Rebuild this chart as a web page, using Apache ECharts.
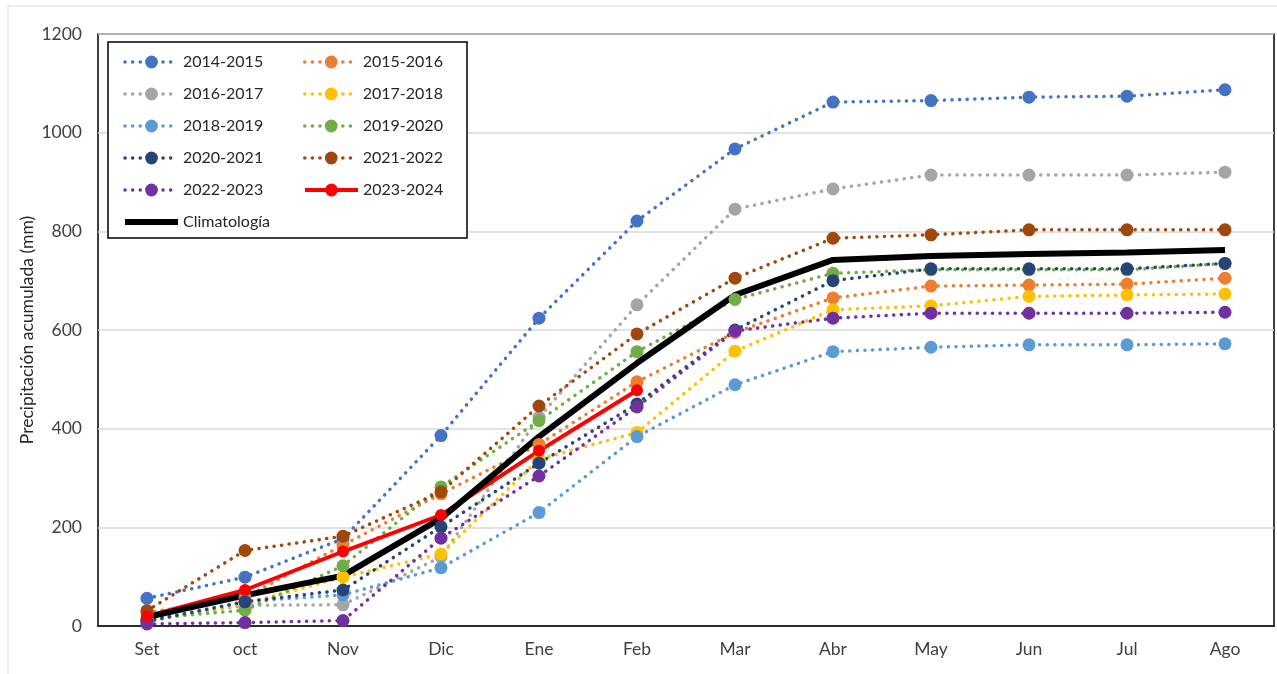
<!DOCTYPE html>
<html>
<head>
<meta charset="utf-8">
<script src="https://cdn.jsdelivr.net/npm/echarts@6/dist/echarts.min.js"></script>
<style>
  html, body { margin: 0; padding: 0; background: #fff; }
  #chart { width: 1277px; height: 674px; }
</style>
</head>
<body>
<div id="chart"></div>
<script>
const months = ['Set', 'oct', 'Nov', 'Dic', 'Ene', 'Feb', 'Mar', 'Abr', 'May', 'Jun', 'Jul', 'Ago'];
const yTicks = [0, 200, 400, 600, 800, 1000, 1200];

const s2014_2015 = [56, 99, 177, 386, 624, 821, 967, 1062, 1065, 1072, 1074, 1087];
const s2015_2016 = [27, 58, 164, 268, 368, 495, 595, 665, 689, 691, 693, 705];
const s2016_2017 = [12, 42, 43, 140, 423, 651, 845, 886, 914, 914, 914, 920];
const s2017_2018 = [10, 45, 99, 146, 338, 392, 557, 641, 649, 668, 671, 673];
const s2018_2019 = [8, 50, 63, 118, 230, 384, 489, 556, 565, 570, 570, 572];
const s2019_2020 = [15, 32, 122, 282, 416, 556, 662, 715, 722, 722, 722, 735];
const s2020_2021 = [10, 49, 73, 201, 330, 450, 600, 700, 724, 724, 724, 735];
const s2021_2022 = [31, 153, 182, 272, 446, 592, 705, 786, 793, 803, 803, 803];
const s2022_2023 = [4, 7, 11, 178, 304, 444, 598, 624, 634, 634, 634, 636];
const s2023_2024 = [20, 73, 151, 225, 355, 478];
const climatologia = [18, 62, 102, 218, 384, 533, 671, 742, 750, 754, 757, 762];

const chart = echarts.init(document.getElementById('chart'));
const font = 'Lato, "Open Sans", sans-serif';

// dotted seasons, Excel-style round dots
const dotted = [
  ['2014-2015', s2014_2015, '#4472C4'],
  ['2015-2016', s2015_2016, '#ED7D31'],
  ['2016-2017', s2016_2017, '#A5A5A5'],
  ['2017-2018', s2017_2018, '#FFC000'],
  ['2018-2019', s2018_2019, '#5B9BD5'],
  ['2019-2020', s2019_2020, '#70AD47'],
  ['2020-2021', s2020_2021, '#264478'],
  ['2021-2022', s2021_2022, '#9E480E'],
  ['2022-2023', s2022_2023, '#7030A0']
];

const series = dotted.map(([name, data, color]) => ({
  name,
  type: 'line',
  data,
  symbol: 'circle',
  symbolSize: 13,
  itemStyle: { color },
  lineStyle: { color, width: 3.5, type: [0.1, 7.5], cap: 'round' },
  emphasis: { disabled: true }
}));

series.push({
  name: '2023-2024',
  type: 'line',
  data: s2023_2024,
  symbol: 'circle',
  symbolSize: 12,
  itemStyle: { color: '#FF0000' },
  lineStyle: { color: '#FF0000', width: 4 },
  emphasis: { disabled: true }
});

series.push({
  name: 'Climatología',
  type: 'line',
  data: climatologia,
  symbol: 'none',
  itemStyle: { color: '#000000' },
  lineStyle: { color: '#000000', width: 6 },
  emphasis: { disabled: true }
});

// legend entries; the climatology one has a plain line, no marker
const legendData = series.map(s => s.name === 'Climatología'
  ? { name: s.name, itemStyle: { opacity: 0 } }
  : s.name);

const option = {
  animation: false,
  backgroundColor: '#ffffff',
  textStyle: { fontFamily: font },
  graphic: [{
    type: 'rect',
    shape: { x: 8, y: 6, width: 1290, height: 700 },
    style: { fill: 'none', stroke: '#d9d9d9', lineWidth: 1 },
    silent: true
  }],
  grid: {
    left: 98, right: 3, top: 34, bottom: 48,
    show: true, borderColor: '#000000', borderWidth: 1.5
  },
  legend: {
    left: 108, top: 42,
    width: 350,
    orient: 'horizontal',
    padding: [12, 0, 8, 14],
    backgroundColor: '#ffffff',
    borderColor: '#000000',
    borderWidth: 1.5,
    itemWidth: 53,
    itemHeight: 16,
    itemGap: 16,
    lineStyle: { width: 'inherit' },
    textStyle: { fontFamily: font, fontSize: 16, color: '#262626', width: 104, lineHeight: 16 },
    data: legendData
  },
  xAxis: {
    type: 'category',
    data: months,
    boundaryGap: true,
    axisLine: { lineStyle: { color: '#000000', width: 1.5 } },
    axisTick: { show: false },
    axisLabel: { color: '#404040', fontSize: 17.5, fontFamily: font, margin: 14 }
  },
  yAxis: {
    type: 'value',
    min: yTicks[0],
    max: yTicks[yTicks.length - 1],
    interval: 200,
    name: 'Precipitación acumulada (mm)',
    nameLocation: 'middle',
    nameGap: 62,
    nameMoveOverlap: false,
    nameTextStyle: { color: '#262626', fontSize: 17.5, fontFamily: font },
    axisLine: { show: false },
    axisTick: { show: false },
    splitLine: { lineStyle: { color: '#d9d9d9', width: 1.5 } },
    axisLabel: { color: '#404040', fontSize: 17.5, fontFamily: font, margin: 16, formatter: v => String(v) }
  },
  series
};

chart.setOption(option);
window.addEventListener('resize', () => chart.resize());
</script>
</body>
</html>
